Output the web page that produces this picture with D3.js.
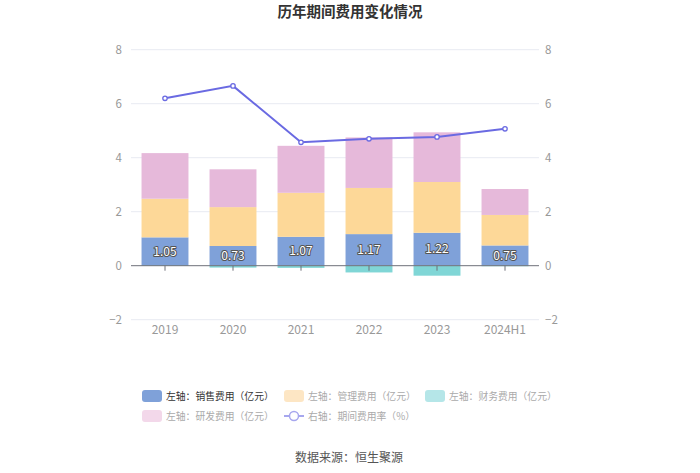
<!DOCTYPE html>
<html><head><meta charset="utf-8">
<script src="https://cdn.jsdelivr.net/npm/d3@7"></script>
<style>body{margin:0;background:#fff;font-family:"Noto Sans CJK SC","Noto Sans",sans-serif;}</style>
</head><body>
<svg id="c" width="700" height="473"></svg>
<script>
const categories = ["2019","2020","2021","2022","2023","2024H1"];
const sales = [1.05,0.73,1.07,1.17,1.22,0.75];
const management = [1.43,1.44,1.63,1.71,1.88,1.13];
const finance = [-0.01,-0.07,-0.08,-0.25,-0.37,-0.02];
const rd = [1.69,1.40,1.74,1.87,1.84,0.96];
const rate = [6.20,6.66,4.57,4.70,4.77,5.07];
const yTicks = [-2,0,2,4,6,8];

const svg = d3.select("#c");
const font = '"Noto Sans CJK SC","Noto Sans",sans-serif';
const x = d3.scaleBand().domain(categories).range([131,539]).paddingInner(0.31).paddingOuter(0.155);
const xc = d3.scalePoint().domain(categories).range([165,505]);
const y = d3.scaleLinear().domain([-2,8]).range([319.7,49.7]);
const yr = d3.scaleLinear().domain([-2,8]).range([319.7,49.7]);

svg.append("text").attr("x",350).attr("y",17).attr("text-anchor","middle")
  .attr("font-size",14.5).attr("font-weight","bold").attr("fill","#333").attr("font-family",font).text("历年期间费用变化情况");

const grid = svg.append("g");
yTicks.filter(t=>t!==0).forEach(t=>{
  grid.append("line").attr("x1",131).attr("x2",539).attr("y1",y(t)).attr("y2",y(t)).attr("stroke","#e8ebf2").attr("stroke-width",1);
});
const la = svg.append("g").attr("transform","translate(131,0)").call(d3.axisLeft(y).tickValues(yTicks).tickSize(0).tickPadding(9));
la.select(".domain").remove();
la.selectAll("text").attr("fill","#999").attr("font-size",11.5).attr("font-family",font);
const ra = svg.append("g").attr("transform","translate(539,0)").call(d3.axisRight(yr).tickValues(yTicks).tickSize(0).tickPadding(6));
ra.select(".domain").remove();
ra.selectAll("text").attr("fill","#999").attr("font-size",11.5).attr("font-family",font);

const series = [
  {name:"sales",vals:sales,color:"#7fa1d9"},
  {name:"management",vals:management,color:"#fdd898"},
  {name:"finance",vals:finance,color:"#80d6d6"},
  {name:"rd",vals:rd,color:"#e6b9da"}
];
const posBase = categories.map(()=>0), negBase = categories.map(()=>0);
const bars = svg.append("g");
series.forEach(s=>{
  categories.forEach((c,i)=>{
    const v = s.vals[i];
    let y0,y1;
    if(v>=0){y0=posBase[i];y1=y0+v;posBase[i]=y1;} else {y0=negBase[i];y1=y0+v;negBase[i]=y1;}
    bars.append("rect").attr("x",x(c)).attr("width",x.bandwidth())
      .attr("y",y(Math.max(y0,y1))).attr("height",Math.abs(y(y0)-y(y1))).attr("fill",s.color);
  });
});
svg.append("line").attr("x1",131).attr("x2",539).attr("y1",y(0)).attr("y2",y(0)).attr("stroke","#6e7079").attr("stroke-width",1);
categories.forEach(c=>{
  svg.append("line").attr("x1",xc(c)).attr("x2",xc(c)).attr("y1",y(0)).attr("y2",y(0)+5).attr("stroke","#6e7079");
});
categories.forEach(c=>{
  svg.append("text").attr("x",xc(c)).attr("y",334).attr("text-anchor","middle").attr("fill","#999")
    .attr("font-size",12).attr("font-family",font).text(c);
});
categories.forEach((c,i)=>{
  svg.append("text").attr("x",xc(c)).attr("y",y(sales[i]/2)+4).attr("text-anchor","middle")
    .attr("font-size",12).attr("font-family",font).attr("fill","#fff")
    .attr("stroke","#555").attr("stroke-width",2).attr("paint-order","stroke").attr("stroke-linejoin","round")
    .text(sales[i].toFixed(2));
});
const line = d3.line().x((d,i)=>xc(categories[i])).y(d=>yr(d));
svg.append("path").datum(rate).attr("d",line).attr("fill","none").attr("stroke","#6a6ae2").attr("stroke-width",2);
rate.forEach((d,i)=>{
  svg.append("circle").attr("cx",xc(categories[i])).attr("cy",yr(d)).attr("r",2.2).attr("fill","#fff").attr("stroke","#6a6ae2").attr("stroke-width",1.3);
});

const leg = [
  {t:"左轴：销售费用（亿元）",c:"#7fa1d9",tc:"#333",x:142,y:396,type:"rect"},
  {t:"左轴：管理费用（亿元）",c:"#fde6c4",tc:"#aaa",x:284,y:396,type:"rect"},
  {t:"左轴：财务费用（亿元）",c:"#b5e6e8",tc:"#aaa",x:425,y:396,type:"rect"},
  {t:"左轴：研发费用（亿元）",c:"#f3d8ea",tc:"#aaa",x:142,y:416,type:"rect"},
  {t:"右轴：期间费用率（%）",c:"#a7a7ee",tc:"#aaa",x:284,y:416,type:"line"}
];
leg.forEach(l=>{
  if(l.type==="rect"){
    svg.append("rect").attr("x",l.x).attr("y",l.y-6).attr("width",20).attr("height",12).attr("rx",3).attr("fill",l.c);
  } else {
    svg.append("line").attr("x1",l.x).attr("x2",l.x+20).attr("y1",l.y).attr("y2",l.y).attr("stroke",l.c).attr("stroke-width",2);
    svg.append("circle").attr("cx",l.x+10).attr("cy",l.y).attr("r",4.5).attr("fill","#fff").attr("stroke",l.c).attr("stroke-width",1.5);
  }
  svg.append("text").attr("x",l.x+24).attr("y",l.y+4).attr("fill",l.tc).attr("font-size",9.8)
    .attr("font-family",font).text(l.t);
});

svg.append("text").attr("x",349).attr("y",462).attr("text-anchor","middle").attr("fill","#555")
  .attr("font-size",12).attr("font-family",font).text("数据来源：恒生聚源");
</script>
</body></html>
